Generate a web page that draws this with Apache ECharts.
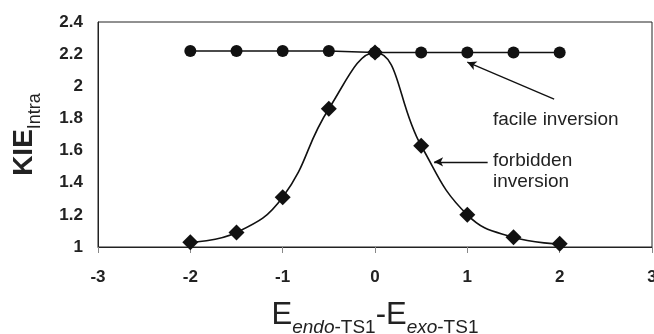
<!DOCTYPE html>
<html><head><meta charset="utf-8">
<script src="https://cdn.jsdelivr.net/npm/echarts@6/dist/echarts.min.js"></script>
<style>html,body{margin:0;padding:0;background:#fff}#c{width:654px;height:334px}</style>
</head><body><div id="c"></div>
<script>
var xValues = [-2, -1.5, -1, -0.5, 0, 0.5, 1, 1.5, 2];
var facile = [2.22, 2.22, 2.22, 2.22, 2.21, 2.21, 2.21, 2.21, 2.21];
var forbidden = [1.03, 1.09, 1.31, 1.86, 2.21, 1.63, 1.2, 1.06, 1.02];
var facileLabel = 'facile inversion';
var forbiddenLabel = ['forbidden', 'inversion'];

function pairs(xs, ys) { return xs.map(function (x, i) { return [x, ys[i]]; }); }

var chart = echarts.init(document.getElementById('c'));
var font = 'Liberation Sans, Arial, sans-serif';
chart.setOption({
  animation: false,
  grid: { left: 98, right: 2, top: 22, bottom: 87, show: true, borderColor: '#222', borderWidth: 1, containLabel: false, outerBoundsMode: 'none' },
  xAxis: {
    type: 'value', min: -3, max: 3, interval: 1,
    axisLine: { show: true, onZero: false, lineStyle: { color: '#222', width: 1 } },
    axisTick: { show: true, length: 6, lineStyle: { color: '#888', width: 1 } },
    splitLine: { show: false },
    axisLabel: { color: '#222', fontFamily: font, fontWeight: 'bold', fontSize: 17, margin: 22 },
    name: '{e|E}{s|endo}{n|-TS1}{e|-E}{s|exo}{n|-TS1}',
    nameLocation: 'middle', nameGap: 50,
    nameTextStyle: {
      rich: {
        e: { fontFamily: font, fontSize: 31, color: '#222', verticalAlign: 'bottom', lineHeight: 34 },
        s: { fontFamily: font, fontSize: 19, fontStyle: 'italic', color: '#222', verticalAlign: 'bottom', lineHeight: 34, padding: [0, 0, -6, 0] },
        n: { fontFamily: font, fontSize: 19, color: '#222', verticalAlign: 'bottom', lineHeight: 34, padding: [0, 0, -6, 0] }
      }
    }
  },
  yAxis: {
    type: 'value', min: 1, max: 2.4, interval: 0.2,
    axisLine: { show: true, onZero: false, lineStyle: { color: '#222', width: 1 } },
    axisTick: { show: false },
    splitLine: { show: false },
    axisLabel: {
      color: '#222', fontFamily: font, fontWeight: 'bold', fontSize: 17, margin: 15,
      formatter: function (v) { return String(Math.round(v * 10) / 10); }
    },
    name: '{k|KIE}{s|Intra}',
    nameLocation: 'middle', nameRotate: 90, nameGap: 60,
    nameTextStyle: {
      rich: {
        k: { fontFamily: font, fontSize: 28, fontWeight: 'bold', color: '#222', verticalAlign: 'bottom', lineHeight: 30 },
        s: { fontFamily: font, fontSize: 18, color: '#222', verticalAlign: 'bottom', lineHeight: 30, padding: [0, 0, -6, 0] }
      }
    }
  },
  series: [
    {
      type: 'line', data: pairs(xValues, facile),
      symbol: 'circle', symbolSize: 12,
      itemStyle: { color: '#111' }, lineStyle: { color: '#111', width: 1.6 },
      markLine: {
        silent: true, symbol: ['none', 'arrow'], symbolSize: [7, 9],
        lineStyle: { color: '#111', width: 1.3, type: 'solid' }, label: { show: false },
        data: [
          [{ coord: [1.94, 1.92] }, { coord: [1.0, 2.15] }],
          [{ coord: [1.22, 1.53] }, { coord: [0.64, 1.53] }]
        ]
      }
    },
    {
      type: 'line', data: pairs(xValues, forbidden), smooth: 0.45,
      symbol: 'diamond', symbolSize: 16,
      itemStyle: { color: '#111' }, lineStyle: { color: '#111', width: 1.6 }
    }
  ],
  graphic: [
    { type: 'text', left: 493, top: 110, style: { text: facileLabel, font: '19px ' + font, fill: '#222' } },
    { type: 'text', left: 493, top: 150, style: { text: forbiddenLabel.join('\n'), font: '19px ' + font, fill: '#222', lineHeight: 21 } }
  ]
});
</script></body></html>
